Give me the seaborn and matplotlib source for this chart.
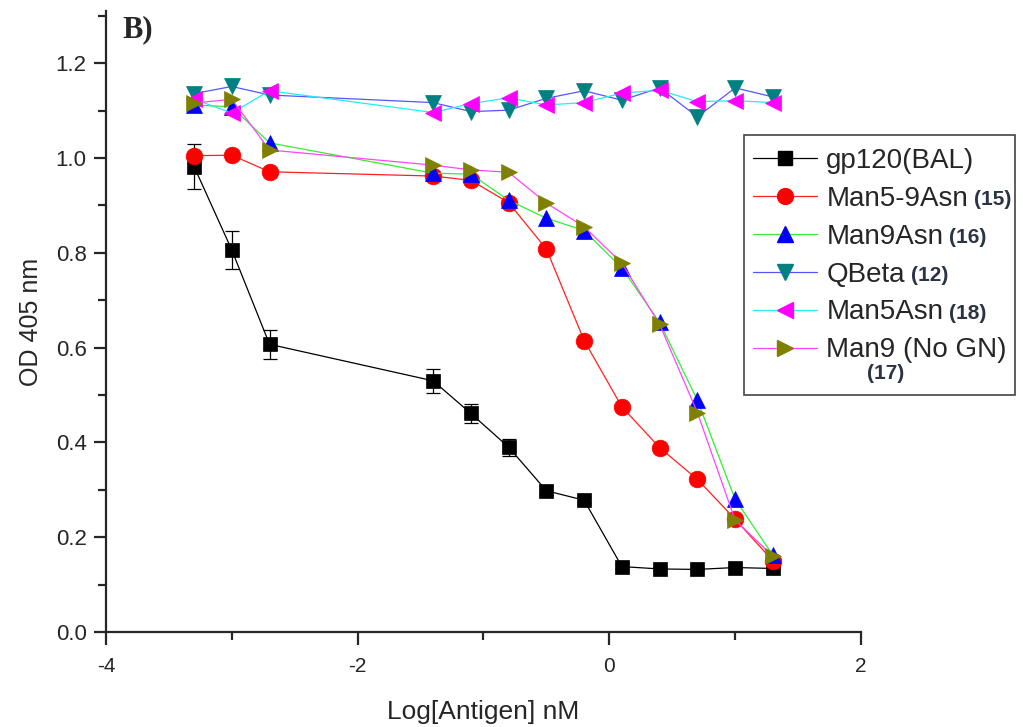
import matplotlib
matplotlib.use("Agg")
import matplotlib.pyplot as plt
from matplotlib.lines import Line2D
from matplotlib.patches import Rectangle
from matplotlib.ticker import MultipleLocator
import numpy as np
import pandas as pd
import seaborn as sns

# Data
log_antigen = [-3.3, -3.0, -2.7, -1.4, -1.1, -0.8, -0.5, -0.2, 0.1, 0.4, 0.7, 1.0, 1.3]

gp120_bal = [0.982, 0.806, 0.607, 0.530, 0.461, 0.390, 0.298, 0.278, 0.138, 0.133, 0.132, 0.136, 0.134]
gp120_err = [0.048, 0.040, 0.030, 0.025, 0.020, 0.018, 0.010, 0.006, 0.005, 0.004, 0.004, 0.004, 0.004]
man5_9asn = [1.005, 1.006, 0.971, 0.962, 0.953, 0.906, 0.808, 0.615, 0.475, 0.389, 0.322, 0.238, 0.150]
man9asn = [1.112, 1.108, 1.032, 0.968, 0.966, 0.911, 0.873, 0.847, 0.768, 0.653, 0.489, 0.280, 0.162]
qbeta = [1.136, 1.151, 1.133, 1.117, 1.098, 1.101, 1.126, 1.142, 1.122, 1.148, 1.087, 1.148, 1.129]
man5asn = [1.124, 1.095, 1.142, 1.096, 1.115, 1.127, 1.112, 1.117, 1.137, 1.143, 1.119, 1.121, 1.117]
man9_nogn = [1.116, 1.124, 1.017, 0.985, 0.975, 0.970, 0.905, 0.855, 0.778, 0.649, 0.463, 0.236, 0.160]

names = ["gp120(BAL)", "Man5-9Asn", "Man9Asn", "QBeta", "Man5Asn", "Man9 (No GN)"]
compound_ids = ["", "(15)", "(16)", "(12)", "(18)", "(17)"]

# (values, line colour, marker, marker colour, marker size)
series = [
    (gp120_bal, "black", "s", "black", 10.5),
    (man5_9asn, "#ff2020", "o", "#ff0000", 12),
    (man9asn, "#33ee33", "^", "#0000ff", 12),
    (qbeta, "#5555ff", "v", "#008080", 12),
    (man5asn, "#22eeee", "<", "#ff00ff", 12),
    (man9_nogn, "#ff44ff", ">", "#808000", 12),
]

sns.set_style("ticks")
plt.rcParams["font.family"] = ["Liberation Sans", "DejaVu Sans"]
plt.rcParams["axes.unicode_minus"] = False

fig = plt.figure(figsize=(10.23, 7.27), dpi=100)
ax = fig.add_axes([0.1036, 0.1307, 0.7380, 0.8540])

ax.errorbar(log_antigen, gp120_bal, yerr=gp120_err, fmt="none", ecolor="black",
            elinewidth=0.9, capsize=5, capthick=0.9, zorder=2)

handles = []
for vals, lc, mk, mc, ms in series:
    df = pd.DataFrame({"x": log_antigen, "y": vals})
    sns.lineplot(data=df, x="x", y="y", ax=ax, sort=False, estimator=None,
                 color=lc, linewidth=0.9, marker=mk, markersize=ms,
                 markerfacecolor=mc, markeredgecolor=mc, markeredgewidth=0.5)
    handles.append(Line2D([], [], color=lc, linewidth=0.9, marker=mk, markersize=ms * 0.95,
                          markerfacecolor=mc, markeredgecolor=mc))

ax.set_xlim(-4, 2)
ax.set_ylim(0, 1.31)
ax.xaxis.set_major_locator(MultipleLocator(2))
ax.xaxis.set_minor_locator(MultipleLocator(1))
ax.yaxis.set_minor_locator(MultipleLocator(0.1))
ax.set_yticks(np.arange(0, 1.21, 0.2))
ax.set_yticklabels([f"{v:.1f}" for v in np.arange(0, 1.21, 0.2)])
ax.tick_params(which="major", direction="out", length=9, width=1.6)
ax.tick_params(which="minor", direction="out", length=6, width=1.6)
ax.tick_params(axis="y", which="major", labelsize=16, pad=5)
ax.tick_params(axis="x", which="major", labelsize=15, pad=9)
for s in ["left", "bottom"]:
    ax.spines[s].set_linewidth(1.6)
sns.despine(ax=ax)

ax.set_xlabel("Log[Antigen] nM", fontsize=19, labelpad=17)
ax.set_ylabel("OD 405 nm", fontsize=18, labelpad=9)

ax.text(0.022, 0.993, "B)", transform=ax.transAxes, fontsize=22, fontweight="bold",
        family=["Liberation Serif", "DejaVu Serif"], va="top", ha="left")

# legend box drawn separately so it can hold the wrapped "(17)"
fig.add_artist(Rectangle((0.7273, 0.4567), 0.2649, 0.3576, transform=fig.transFigure,
                         facecolor="white", edgecolor="#444444", linewidth=1.2, zorder=4))
leg = fig.legend(handles, names, loc="upper left", bbox_to_anchor=(0.7235, 0.814),
                 fontsize=20, frameon=False, handlelength=2.3,
                 labelspacing=0.43, borderpad=0.45, handletextpad=0.35, borderaxespad=0)
leg.set_zorder(5)

# bold compound numbers appended after the legend labels
fig.canvas.draw()
renderer = fig.canvas.get_renderer()
inv = fig.transFigure.inverted()
for txt, cid in zip(leg.get_texts(), compound_ids):
    if not cid:
        continue
    bb = txt.get_window_extent(renderer)
    if cid == "(17)":
        x0, y0 = inv.transform((bb.x0 + 41, bb.y0 - 10))
    else:
        x0, y0 = inv.transform((bb.x1 + 6, bb.y0 + 0.45 * bb.height))
    fig.text(x0, y0, cid, fontsize=15, fontweight="bold", color="#2b3445",
             ha="left", va="center", zorder=10)

fig.savefig("out.png", dpi=100)
